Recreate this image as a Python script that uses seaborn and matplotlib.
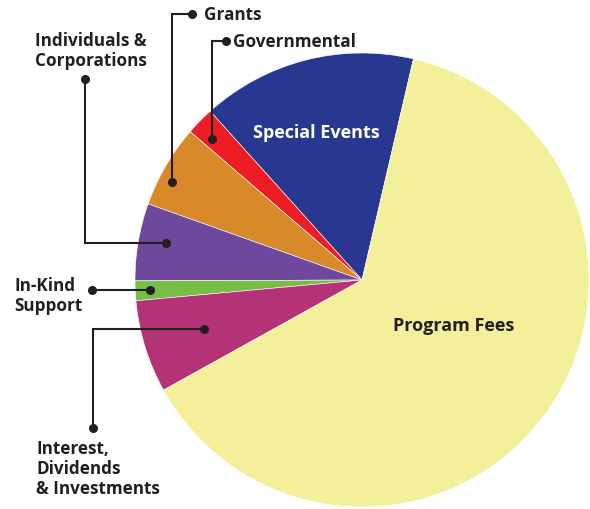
import numpy as np
import seaborn as sns
import matplotlib.pyplot as plt

# revenue shares (%), in drawing order (counter-clockwise)
sources = ["Special Events", "Governmental", "Grants", "Individuals & Corporations",
           "In-Kind Support", "Interest, Dividends & Investments", "Program Fees"]
shares = [15.3, 2.0, 5.9, 5.5, 1.4, 6.6, 63.3]
colors = ["#283891", "#EE1D25", "#D88A2B", "#6D489D", "#76BF44", "#B43377", "#F4EF9A"]

sns.set_theme(style="white")
plt.rcParams["font.family"] = ["Open Sans", "DejaVu Sans"]

W, H = 590, 510
fig = plt.figure(figsize=(W / 100, H / 100), dpi=100)
ax = fig.add_axes([0, 0, 1, 1])


def P(x, y):
    # pixel coords (y down) -> axes data coords (y up)
    return x, H - y


cx, cy = P(362, 281)
ax.pie(shares, colors=sns.color_palette(colors), startangle=76.9, counterclock=True,
       center=(cx, cy), radius=227,
       wedgeprops=dict(edgecolor="white", linewidth=0.4))
ax.set_xlim(0, W)
ax.set_ylim(0, H)
ax.set_aspect("equal")
ax.axis("off")

ink = "#231F20"
fs = 12.3

# leader lines: list of pixel points, dots at both ends
leaders = [
    [(192, 15), (172, 15), (172, 183)],
    [(226, 42), (211.5, 42), (211.5, 140)],
    [(85, 80), (85, 244), (166, 244)],
    [(92, 291), (150, 291)],
    [(204, 330), (92.5, 330), (92.5, 429)],
]
for pts in leaders:
    xs, ys = zip(*[P(x, y) for x, y in pts])
    ax.plot(xs, ys, color=ink, lw=1.5, solid_joinstyle="miter")
    ax.plot([xs[0], xs[-1]], [ys[0], ys[-1]], "o", color=ink, ms=5.5)

labels = [
    ("Grants", 204, 15),
    ("Governmental", 233, 42),
    ("Individuals &\nCorporations", 35, 51),
    ("In-Kind\nSupport", 14, 296),
    ("Interest,\nDividends\n& Investments", 36, 469),
]
for txt, x, y in labels:
    ax.text(*P(x, y), txt, ha="left", va="center", fontsize=fs, fontweight="bold",
            color=ink, linespacing=1.12)

ax.text(*P(316, 133), "Special Events", ha="center", va="center", fontsize=13,
        fontweight="bold", color="white")
ax.text(*P(454, 326), "Program Fees", ha="center", va="center", fontsize=13,
        fontweight="bold", color=ink)

fig.savefig("out.png", dpi=100)
